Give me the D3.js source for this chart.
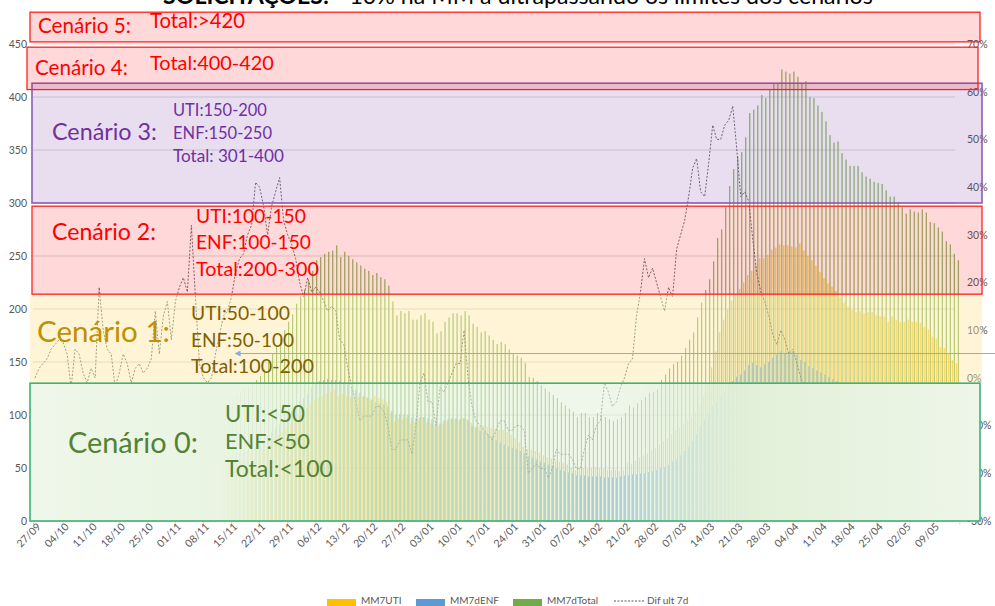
<!DOCTYPE html>
<html lang="pt">
<head>
<meta charset="UTF-8">
<title>Solicitações - cenários</title>
<script src="https://d3js.org/d3.v7.min.js"></script>
<style>
  body { margin: 0; background: #fff; }
  svg { display: block; font-family: Lato, "Liberation Sans", sans-serif; }
  .tick text { fill: #595959; }
</style>
</head>
<body>
<svg id="chart" width="995" height="606"></svg>
<script>
// ---- data ----
const firstDay = Date.UTC(2020, 8, 27);   // 27/09
const tickLabels = ["27/09","04/10","11/10","18/10","25/10","01/11","08/11","15/11","22/11","29/11",
  "06/12","13/12","20/12","27/12","03/01","10/01","17/01","24/01","31/01","07/02","14/02","21/02",
  "28/02","07/03","14/03","21/03","28/03","04/04","11/04","18/04","25/04","02/05","09/05"];

const mm7UTI = [
  28,28,29,29,30,30,31,31,31,30, 31,31,32,32,31,32,33,34,35,35,
  34,34,35,36,35,36,36,36,37,37, 38,39,40,42,43,44,45,47,48,50,
  51,51,51,51,51,52,52,53,54,55, 56,57,58,60,61,63,65,67,70,74,
  77,81,84,88,91,96,99,102,106,110, 114,116,118,120,122,124,118,120,118,117,
  117,117,117,117,115,118,116,115,112,102, 94,97,96,98,92,93,96,98,93,92,
  90,90,92,94,96,96,95,97,96,93, 89,89,90,89,88,87,86,86,84,81,
  78,74,70,68,67,66,64,62,60,59, 57,56,55,53,51,48,50,50,49,50,
  51,50,49,48,48,48,47,48,55,54, 57,60,62,64,67,69,72,75,78,82,
  86,88,92,95,98,102,108,118,130,145, 160,178,190,200,208,214,219,225,232,236,
  242,248,248,251,256,258,261,260,260,259, 258,262,255,250,246,241,235,229,224,221,
  217,211,206,202,199,197,198,196,197,197, 194,193,193,188,193,190,188,188,190,188,
  188,187,183,181,174,172,164,163,158,152, 149];

const mm7dENF = [
  32,33,33,34,34,35,35,36,35,35, 35,36,36,36,36,36,37,39,39,39,
  39,39,40,40,40,40,41,41,41,42, 44,45,46,47,48,50,52,53,55,56,
  57,57,57,57,58,58,59,59,60,61, 62,64,66,67,69,70,72,76,80,84,
  88,91,96,100,104,109,113,116,120,126, 130,132,133,134,133,133,132,131,129,127,
  124,121,118,116,114,112,111,110,108,104, 100,101,100,100,98,97,98,98,97,96,
  92,92,95,96,97,97,96,97,95,90, 88,85,84,82,80,76,74,72,70,69,
  68,66,64,61,60,58,56,55,53,52, 50,48,47,46,45,43,43,43,42,42,
  42,42,41,41,41,41,42,43,43,44, 44,45,45,46,47,48,50,51,53,56,
  58,62,66,70,76,82,90,96,102,108, 112,118,122,128,132,136,138,142,147,149,
  147,145,148,150,154,157,160,158,160,160, 157,152,150,146,144,142,140,138,136,134,
  132,130,128,126,125,124,122,120,119,118, 118,117,115,114,112,111,110,108,106,105,
  104,104,103,101,100,100,99,98,98,97, 96];

const mm7dTotal = [
  60,61,62,63,64,65,66,67,66,65, 66,67,68,68,67,68,70,73,74,74,
  73,73,75,76,75,76,77,77,78,79, 82,84,86,89,91,94,97,100,103,106,
  108,108,108,108,109,110,111,112,114,116, 118,121,124,127,130,133,137,143,150,158,
  165,172,180,188,195,205,212,218,226,236, 246,249,252,254,255,260,249,254,250,247,
  244,241,238,236,232,234,230,228,222,207, 194,198,196,198,190,190,194,196,190,188,
  177,179,188,192,196,196,194,198,194,186, 183,178,179,175,171,167,169,167,162,158,
  156,154,149,136,135,132,128,125,122,119, 116,112,109,106,103,98,102,102,98,98,
  102,100,98,96,94,96,98,102,109,107, 111,114,117,121,122,124,133,138,144,148,
  150,156,163,171,178,192,206,218,228,245, 267,275,296,316,332,344,348,362,385,388,
  392,402,399,407,413,413,426,424,422,424, 419,413,415,400,399,392,386,377,364,357,
  358,347,341,335,335,335,329,325,323,320, 319,318,312,306,306,301,296,290,294,292,
  291,294,291,282,281,277,273,264,261,252, 246];

// "Dif ult 7d", in %
const difUlt7d = [
  0,2,3,4,6,7,8,7.5,5,-2, 6,5,1,-1,2,0,19,10,6,5,
  -2,1,5,3,-1,2,3,1,2,4, 14,5,13,16,8,16,19,21,18,32,
  17,3,0,-1,0,5,9,13,14,17, 22,25,26,30,32,41,40,36,30,36,
  39,42,33,30,28,25,20,17,21,18, 19,18,16,14,15,14,8,7,2,-2,
  -5,-9,-8,-8,-8,-6,-6,-7,-10,-15, -15,-13,-13,-13,-16,-10,-1,1,-5,-5,
  -10,-2,-3,-1,1,3,3,10,0,-6, -9,-10,-11,-12,-13,-11,-9,-9,-11,-11,
  -10,-10,-11,-20,-19,-18,-19,-19,-21,-19, -15,-16,-16,-16,-17,-19,-19,-15,-12,-13,
  -10,-9,-1,-3,-6,-5,-2,0,3,4, 13,18,25,21,23,20,17,14,19,17,
  27,30,33,38,44,46,39,38,45,53, 50,50,53,54,57,48,38,39,37,29,
  22,18,16,13,9,7,10,8,5,6, 3,0,-2,-4,-6,-8,-9,-10,-11,-12,
  -13,-14,-14,-14,-13,-13,-12,-11,-11,-10, -9,-9,-8,-8,-7,-7,-6,-6,-6,-5,
  -5,-6,-6,-7,-8,-9,-9,-10,-11,-12, -12];

const arrowLevel = 158;   // blue reference arrow, left-axis units

// ---- layout ----
const svg = d3.select("#chart");
const n = mm7dTotal.length;
const days = d3.range(n).map(i => new Date(firstDay + i * 864e5));
const fmt = d3.utcFormat("%d/%m");

const plotLeft = 33, step = 4.01, plotTop = 44, plotBottom = 521;
const x = d3.scaleBand().domain(d3.range(n))
  .range([plotLeft, plotLeft + n * step]).paddingInner(0.24).paddingOuter(0.12);
const yL = d3.scaleLinear().domain([0, 450]).range([plotBottom, plotTop]);
const yR = d3.scaleLinear().domain([-30, 70]).range([plotBottom, plotTop]);

const series = [
  { key: "uti", name: "MM7UTI", values: mm7UTI, color: "#ffc000" },
  { key: "enf", name: "MM7dENF", values: mm7dENF, color: "#5b9bd5" },
  { key: "total", name: "MM7dTotal", values: mm7dTotal, color: "#70ad47" }
];
const xs = d3.scaleBand().domain(series.map(s => s.key)).range([0, x.bandwidth()]);

// gridlines
svg.append("g").selectAll("line")
  .data(d3.range(50, 451, 50)).join("line")
  .attr("x1", plotLeft).attr("x2", 955)
  .attr("y1", d => yL(d)).attr("y2", d => yL(d))
  .attr("stroke", "#d9d9d9").attr("stroke-width", 1);

// bars
series.forEach(s => {
  svg.append("g").attr("fill", s.color)
    .selectAll("rect").data(s.values).join("rect")
    .attr("x", (v, i) => x(i) + xs(s.key))
    .attr("width", xs.bandwidth())
    .attr("y", v => yL(v))
    .attr("height", v => yL(0) - yL(v));
});

// dashed line
svg.append("path")
  .datum(difUlt7d)
  .attr("fill", "none")
  .attr("stroke", "#5f5f5f")
  .attr("stroke-width", 0.9)
  .attr("stroke-dasharray", "2,1.6")
  .attr("d", d3.line().x((v, i) => x(i) + x.bandwidth() / 2).y(v => yR(v)));

// axes
const axL = svg.append("g").attr("transform", `translate(${plotLeft},0)`)
  .call(d3.axisLeft(yL).tickValues(d3.range(0, 451, 50)).tickSize(0).tickPadding(6));
axL.select(".domain").remove();
axL.selectAll("text").attr("font-size", 10.5).attr("font-family", "Lato");

const axR = svg.append("g").attr("transform", "translate(963,0)")
  .call(d3.axisRight(yR).tickValues(d3.range(-30, 71, 10)).tickSize(0).tickPadding(4)
    .tickFormat(d => d + "%"));
axR.select(".domain").remove();
axR.selectAll("text").attr("font-size", 10.5).attr("font-family", "Lato");

const tickIdx = d3.range(n).filter(i => tickLabels.includes(fmt(days[i])));
const axB = svg.append("g").attr("transform", `translate(0,${plotBottom})`)
  .call(d3.axisBottom(x).tickValues(tickIdx).tickSize(4).tickFormat(i => fmt(days[i])));
axB.select(".domain").attr("stroke", "#d9d9d9");
axB.selectAll(".tick line").attr("stroke", "#d9d9d9");
axB.selectAll("text")
  .attr("font-size", 10.5).attr("font-family", "Lato")
  .attr("text-anchor", "end")
  .attr("x", 0).attr("y", 5.5).attr("dy", "0.35em")
  .attr("transform", "rotate(-45)");

// ---- scenario boxes ----
const defs = svg.append("defs");
const grad = defs.append("linearGradient").attr("id", "gradC0")
  .attr("x1", 0).attr("x2", 1).attr("y1", 0).attr("y2", 0);
[[0, "#eef7e9", 1], [0.2, "#e9f4e2", 1], [0.38, "#e2f0d9", 0.55],
 [0.6, "#e2f0d9", 0.55], [0.76, "#e2f0d9", 1], [1, "#edf6e8", 1]]
  .forEach(([o, c, a]) => grad.append("stop").attr("offset", o)
    .attr("stop-color", c).attr("stop-opacity", a));

const marker = defs.append("marker").attr("id", "arrowHead")
  .attr("viewBox", "0 0 10 10").attr("refX", 1).attr("refY", 5)
  .attr("markerWidth", 6).attr("markerHeight", 6).attr("orient", "auto-start-reverse");
marker.append("path").attr("d", "M0,0 L10,5 L0,10 z").attr("fill", "#8faadc");

const boxes = [
  { lo: 130, hi: 214, x0: 30, x1: 982, fill: "#ffe699", op: 0.4, stroke: "none", sw: 0 },
  { lo: 0, hi: 130, x0: 30, x1: 980, fill: "url(#gradC0)", op: 1, stroke: "#3cb371", sw: 1.6 },
  { lo: 214, hi: 297, x0: 32, x1: 982, fill: "#ff0000", op: 0.15, stroke: "#ff2020", sw: 1.3 },
  { lo: 300, hi: 413, x0: 32, x1: 982, fill: "#7030a0", op: 0.16, stroke: "#8e5cb8", sw: 1.6 },
  { lo: 407, hi: 447, x0: 27, x1: 978, fill: "#ff0000", op: 0.15, stroke: "#ff2020", sw: 1.3 },
  { lo: 452, hi: 480, x0: 30, x1: 980, fill: "#ff0000", op: 0.15, stroke: "#ff2020", sw: 1.3 }
];
svg.append("g").selectAll("rect").data(boxes).join("rect")
  .attr("x", d => d.x0).attr("width", d => d.x1 - d.x0)
  .attr("y", d => yL(d.hi)).attr("height", d => yL(d.lo) - yL(d.hi))
  .attr("fill", d => d.fill).attr("fill-opacity", d => d.op)
  .attr("stroke", d => d.stroke).attr("stroke-width", d => d.sw);

// blue reference arrow
svg.append("line")
  .attr("x1", 995).attr("x2", 240)
  .attr("y1", yL(arrowLevel)).attr("y2", yL(arrowLevel))
  .attr("stroke", "#8faadc").attr("stroke-width", 1)
  .attr("marker-end", "url(#arrowHead)");

// text fitted to a measured width
function fit(sel, w) {
  sel.attr("font-size", 20);
  const len = sel.node().getComputedTextLength();
  sel.attr("font-size", 20 * w / len);
}

const labels = [
  { t: "Cenário 5:", x: 38, y: 33, w: 93, c: "#ff0000" },
  { t: "Total:>420", x: 150, y: 28, w: 95, c: "#ff0000" },
  { t: "Cenário 4:", x: 35, y: 75, w: 93, c: "#ff0000" },
  { t: "Total:400-420", x: 150, y: 70, w: 124, c: "#ff0000" },
  { t: "Cenário 3:", x: 52, y: 140, w: 105, c: "#7030a0" },
  { t: "UTI:150-200", x: 173, y: 116, w: 94, c: "#7030a0" },
  { t: "ENF:150-250", x: 173, y: 139, w: 99, c: "#7030a0" },
  { t: "Total: 301-400", x: 173, y: 162, w: 111, c: "#7030a0" },
  { t: "Cenário 2:", x: 52, y: 240, w: 104, c: "#ff0000" },
  { t: "UTI:100-150", x: 196, y: 223, w: 110, c: "#ff0000" },
  { t: "ENF:100-150", x: 196, y: 249, w: 115, c: "#ff0000" },
  { t: "Total:200-300", x: 196, y: 276, w: 123, c: "#ff0000" },
  { t: "Cenário 1:", x: 37, y: 342, w: 133, c: "#bf9000" },
  { t: "UTI:50-100", x: 191, y: 320, w: 99, c: "#7f6000" },
  { t: "ENF:50-100", x: 191, y: 347, w: 103, c: "#7f6000" },
  { t: "Total:100-200", x: 191, y: 373, w: 123, c: "#7f6000" },
  { t: "Cenário 0:", x: 68, y: 453, w: 130, c: "#548235" },
  { t: "UTI:<50", x: 225, y: 422, w: 80, c: "#548235" },
  { t: "ENF:<50", x: 225, y: 449, w: 85, c: "#548235" },
  { t: "Total:<100", x: 225, y: 477, w: 108, c: "#548235" }
];
const lg = svg.append("g");
labels.forEach(l => {
  const t = lg.append("text").attr("x", l.x).attr("y", l.y)
    .attr("fill", l.c).text(l.t);
  fit(t, l.w);
});

// title (its top runs off the page, as in the original)
const title = svg.append("text").attr("x", 163).attr("y", 4).attr("fill", "#000");
title.append("tspan").attr("font-weight", "bold").text("SOLICITAÇÕES:");
title.append("tspan").text(" - 10% na MM a ultrapassando os limites dos cenários");
fit(title, 710);

// legend
const leg = svg.append("g").attr("font-size", 10).attr("fill", "#595959");
const legPos = { uti: 327, enf: 416, total: 513 };
series.forEach(s => {
  leg.append("rect").attr("x", legPos[s.key]).attr("y", 599)
    .attr("width", 29).attr("height", 9).attr("fill", s.color);
  leg.append("text").attr("x", legPos[s.key] + 34).attr("y", 604).text(s.name);
});
leg.append("line").attr("x1", 614).attr("x2", 644).attr("y1", 601).attr("y2", 601)
  .attr("stroke", "#595959").attr("stroke-width", 1).attr("stroke-dasharray", "2,1.5");
leg.append("text").attr("x", 647).attr("y", 604).text("Dif ult 7d");
</script>
</body>
</html>
